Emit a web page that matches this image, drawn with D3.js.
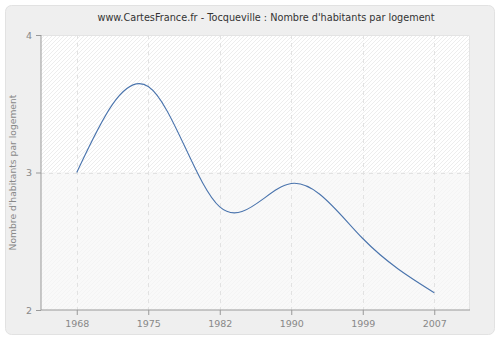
<!DOCTYPE html>
<html><head><meta charset="utf-8">
<script src="https://cdn.jsdelivr.net/npm/d3@7"></script>
<style>body{margin:0;background:#fff}svg{display:block}</style>
</head><body>
<script>
const years = ["1968","1975","1982","1990","1999","2007"];
const values = [3.0, 3.625, 2.75, 2.92, 2.52, 2.126];
const yTicks = [2, 3, 4];
const title = "www.CartesFrance.fr - Tocqueville : Nombre d'habitants par logement";
const yLabel = "Nombre d'habitants par logement";

const W = 500, H = 340;
const m = {left: 41, right: 30, top: 35, bottom: 30};
const svg = d3.select("body").append("svg").attr("width", W).attr("height", H);
const defs = svg.append("defs");
const p1 = defs.append("pattern").attr("id","hatchTop").attr("patternUnits","userSpaceOnUse")
  .attr("width",4).attr("height",4);
p1.append("rect").attr("width",4).attr("height",4).attr("fill","#ffffff");
p1.append("path").attr("d","M-1,1 l2,-2 M0,4 l4,-4 M3,5 l2,-2").attr("stroke","#e9e9e9").attr("stroke-width",0.8);
const p2 = defs.append("pattern").attr("id","hatchBot").attr("patternUnits","userSpaceOnUse")
  .attr("width",4).attr("height",4);
p2.append("rect").attr("width",4).attr("height",4).attr("fill","#f9f9f9");
p2.append("path").attr("d","M-1,1 l2,-2 M0,4 l4,-4 M3,5 l2,-2").attr("stroke","#f2f2f2").attr("stroke-width",0.8);

svg.append("rect").attr("x",5.5).attr("y",5.5).attr("width",489).attr("height",329)
  .attr("rx",6).attr("fill","#efefef").attr("stroke","#e2e2e2");

const x = d3.scalePoint().domain(years).range([m.left, W - m.right]).padding(0.5);
const y = d3.scaleLinear().domain([2, 4]).range([H - m.bottom, m.top]);

svg.append("rect").attr("x", m.left).attr("y", y(4)).attr("width", W - m.right - m.left)
  .attr("height", y(3) - y(4)).attr("fill","url(#hatchTop)");
svg.append("rect").attr("x", m.left).attr("y", y(3)).attr("width", W - m.right - m.left)
  .attr("height", y(2) - y(3)).attr("fill","url(#hatchBot)");
svg.append("path").attr("d",`M${m.left},${y(4)+0.5}H${W-m.right-0.5}V${y(2)}`)
  .attr("fill","none").attr("stroke","#e4e4e4");

svg.append("g").selectAll("line").data(years).join("line")
  .attr("x1", d => Math.round(x(d))+0.5).attr("x2", d => Math.round(x(d))+0.5)
  .attr("y1", y(4)).attr("y2", y(2))
  .attr("stroke","#e2e2e2").attr("stroke-dasharray","4,4");
svg.append("g").selectAll("line").data([3]).join("line")
  .attr("x1", m.left).attr("x2", W - m.right)
  .attr("y1", d => Math.round(y(d))+0.5).attr("y2", d => Math.round(y(d))+0.5)
  .attr("stroke","#e2e2e2").attr("stroke-dasharray","4,4");

const xa = svg.append("g").attr("transform",`translate(0,${y(2)})`)
  .call(d3.axisBottom(x).tickSize(5).tickPadding(5));
const ya = svg.append("g").attr("transform",`translate(${m.left},0)`)
  .call(d3.axisLeft(y).tickValues(yTicks).tickFormat(d3.format("d")).tickSize(5).tickPadding(4));
[xa, ya].forEach(g => {
  g.select(".domain").attr("stroke","#999");
  g.selectAll(".tick line").attr("stroke","#999");
  g.selectAll("text").attr("fill","#888").style("font-family","DejaVu Sans, sans-serif").style("font-size","9.5px");
});
xa.select(".domain").attr("d", `M${m.left},0H${W-m.right}`);
ya.select(".domain").attr("d", `M0,${y(4)}V${y(2)}`);

svg.append("path").datum(values)
  .attr("d", d3.line().x((d,i) => x(years[i])).y(d => y(d)).curve(d3.curveNatural))
  .attr("fill","none").attr("stroke","#4a74ad").attr("stroke-width",1.1);

svg.append("text").attr("x", 266).attr("y", 21).attr("text-anchor","middle")
  .attr("fill","#333").style("font-family","DejaVu Sans, sans-serif").style("font-size","9.7px").text(title);
svg.append("text").attr("transform",`translate(16,${(y(2)+y(4))/2}) rotate(-90)`)
  .attr("text-anchor","middle").attr("fill","#888")
  .style("font-family","DejaVu Sans, sans-serif").style("font-size","9.2px").text(yLabel);
</script>
</body></html>
